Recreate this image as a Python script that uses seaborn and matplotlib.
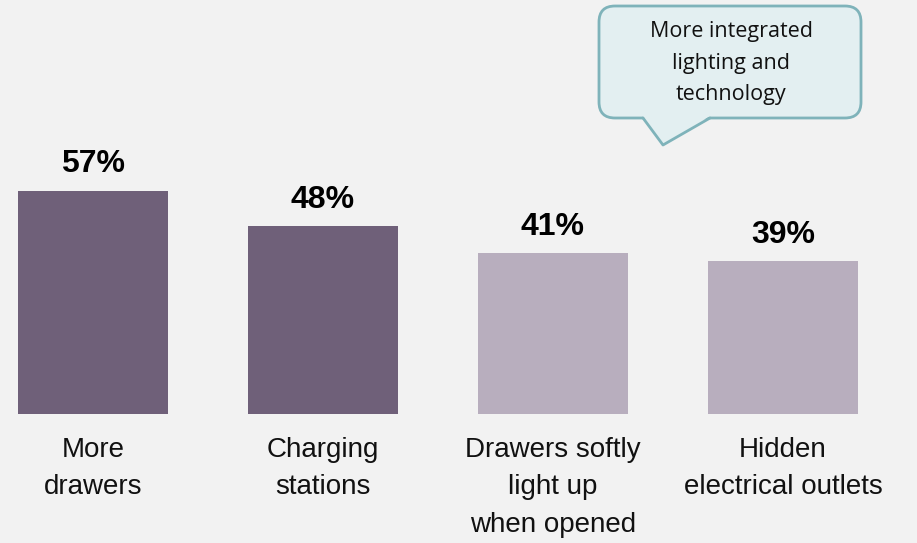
import matplotlib
matplotlib.use("Agg")
import matplotlib.pyplot as plt
import seaborn as sns
from matplotlib.patches import FancyBboxPatch, Polygon
from matplotlib.lines import Line2D

categories = ["More\ndrawers", "Charging\nstations", "Drawers softly\nlight up\nwhen opened",
              "Hidden\nelectrical outlets"]
values = [57, 48, 41, 39]
bar_colors = ["#6F6079", "#6F6079", "#B8AEBE", "#B8AEBE"]
callout_text = "More integrated\nlighting and\ntechnology"

BG = "#F2F2F2"
sns.set_theme(style="white")
plt.rcParams["font.family"] = ["Liberation Sans", "DejaVu Sans"]

fig = plt.figure(figsize=(9.17, 5.43), dpi=100, facecolor=BG)
ax = fig.add_axes([0, 0, 1, 1])
ax.set_facecolor(BG)

sns.barplot(x=categories, y=values, hue=categories, palette=bar_colors,
            width=0.652, legend=False, ax=ax, saturation=1, linewidth=0)
ax.set_xlim(-0.4043, 3.5826)
ax.set_ylim(-32.9, 105.6)
ax.axis("off")

for cont in ax.containers:
    ax.bar_label(cont, labels=[f"{v:.0f}%" for v in cont.datavalues],
                 padding=8, fontsize=23, fontweight="bold", color="black")

for i, c in enumerate(categories):
    ax.text(i, -5.8, c, ha="center", va="top", fontsize=20, color="#111111",
            linespacing=1.58)

# speech-bubble annotation in pixel space
ov = fig.add_axes([0, 0, 1, 1], facecolor="none")
ov.set_xlim(0, 917)
ov.set_ylim(543, 0)
ov.axis("off")
fill, edge = "#E3EFF1", "#7FB3BA"
box = FancyBboxPatch((599, 6), 262, 112, boxstyle="round,pad=0,rounding_size=16",
                     facecolor=fill, edgecolor=edge, linewidth=2)
ov.add_patch(box)
ov.add_patch(Polygon([(643, 116), (663, 145), (710, 116)], closed=True,
                     facecolor=fill, edgecolor="none"))
ov.add_line(Line2D([643, 663, 710], [118, 145, 118], color=edge, linewidth=2))
ov.text(731, 63, callout_text, ha="center", va="center", fontsize=15.5,
        family=["Open Sans", "DejaVu Sans"], color="#111111", linespacing=1.65)

fig.savefig("out.png", dpi=100, facecolor=BG)
